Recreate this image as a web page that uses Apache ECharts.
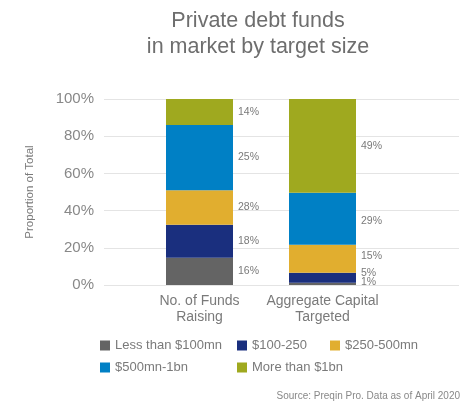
<!DOCTYPE html>
<html>
<head>
<meta charset="utf-8">
<script src="https://cdn.jsdelivr.net/npm/echarts@6/dist/echarts.min.js"></script>
<style>html,body{margin:0;padding:0;background:#fff}#c{width:474px;height:404px}</style>
</head>
<body>
<div id="c"></div>
<script>
const categories = ['No. of Funds\nRaising', 'Aggregate Capital\nTargeted'];
const seriesNames = ['Less than $100mn', '$100-250', '$250-500mn', '$500mn-1bn', 'More than $1bn'];
const colors = ['#646464', '#1a2f7e', '#e1ae2f', '#0080c5', '#9fa91f'];
const lessThan100 = [14.7, 1.2];
const from100to250 = [17.7, 5.4];
const from250to500 = [18.6, 15.1];
const from500to1bn = [35.0, 27.9];
const moreThan1bn = [14.0, 50.4];
const lessThan100Labels = ['16%', '1%'];
const from100to250Labels = ['18%', '5%'];
const from250to500Labels = ['28%', '15%'];
const from500to1bnLabels = ['25%', '29%'];
const moreThan1bnLabels = ['14%', '49%'];
const yTicks = [0, 20, 40, 60, 80, 100];

const values = [lessThan100, from100to250, from250to500, from500to1bn, moreThan1bn];
const labels = [lessThan100Labels, from100to250Labels, from250to500Labels, from500to1bnLabels, moreThan1bnLabels];
const labelOffsets = [[[0,0],[0,-2]], [[0,0],[0,-5]], [[0,0],[0,-3]], [[0,0],[0,2]], [[0,0],[0,0]]];

const font = '"Liberation Sans", Arial, Helvetica, sans-serif';
const chart = echarts.init(document.getElementById('c'));

const series = seriesNames.map((name, si) => ({
  name: name,
  type: 'bar',
  stack: 'total',
  xAxisIndex: 1,
  yAxisIndex: 1,
  barWidth: 67,
  itemStyle: { color: colors[si] },
  data: values[si].map((v, i) => ({
    value: v,
    label: {
      show: true,
      position: 'right',
      distance: 5,
      offset: labelOffsets[si][i],
      formatter: labels[si][i],
      color: '#7a7a7a',
      fontSize: 10.5,
      fontFamily: font
    }
  }))
}));

const legendPos = [[100, 339], [237, 339], [330, 339], [100, 361], [237, 361]];
const legends = seriesNames.map((name, i) => ({
  data: [name],
  left: legendPos[i][0],
  top: legendPos[i][1],
  padding: 0,
  icon: 'rect',
  itemWidth: 10,
  itemHeight: 10,
  selectedMode: false,
  textStyle: { color: '#7a7a7a', fontSize: 13, fontFamily: font }
}));

chart.setOption({
  animation: false,
  backgroundColor: '#fff',
  title: {
    text: 'Private debt funds\nin market by target size',
    left: 253,
    top: 3,
    textAlign: 'center',
    textStyle: { color: '#6e6e6e', fontSize: 21.5, fontWeight: 'normal', lineHeight: 26, fontFamily: font }
  },
  legend: legends,
  grid: [
    { left: 104, right: 15, top: 99, bottom: 119 },
    { left: 138, width: 246, top: 99, bottom: 119 }
  ],
  xAxis: [
    { type: 'category', gridIndex: 0, data: [''], show: false },
    {
      type: 'category', gridIndex: 1, data: categories,
      axisLine: { show: false }, axisTick: { show: false },
      axisLabel: { interval: 0, color: '#7a7a7a', fontSize: 14, lineHeight: 16, margin: 8, fontFamily: font }
    }
  ],
  yAxis: [
    {
      type: 'value', gridIndex: 0, min: yTicks[0], max: yTicks[yTicks.length - 1], interval: 20,
      name: 'Proportion of Total', nameLocation: 'middle', nameRotate: 90, nameGap: 68,
      nameTextStyle: { color: '#7a7a7a', fontSize: 11.5, fontFamily: font },
      axisLine: { show: false }, axisTick: { show: false },
      axisLabel: { formatter: '{value}%', color: '#888', fontSize: 15, margin: 10, fontFamily: font },
      splitLine: { show: true, lineStyle: { color: '#e4e4e4', width: 1 } }
    },
    { type: 'value', gridIndex: 1, min: 0, max: 100, show: false, splitLine: { show: false } }
  ],
  graphic: [{
    type: 'text',
    right: 14,
    top: 391,
    style: { text: 'Source: Preqin Pro. Data as of April 2020', fill: '#888', fontSize: 10, fontFamily: font }
  }],
  series: series
});
</script>
</body>
</html>
